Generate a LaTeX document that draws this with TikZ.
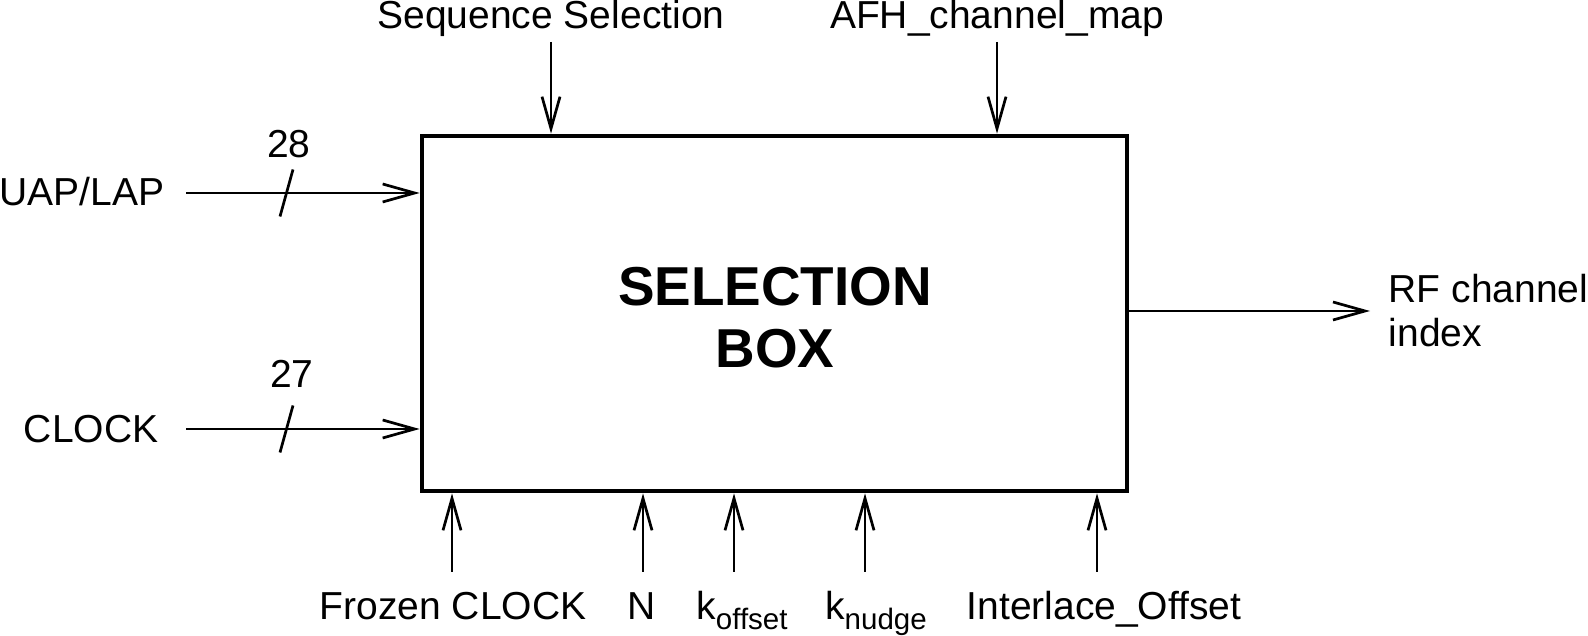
\documentclass[tikz,border=0pt]{standalone}
\usepackage{fontspec}
\setmainfont{Liberation Sans}
\usetikzlibrary{arrows.meta}
\newcommand{\lowsub}[1]{\raisebox{-2.6pt}{\fontsize{8.4}{10}\selectfont #1}}
\begin{document}
\begin{tikzpicture}[x=1cm,y=-1cm,>={Straight Barb[length=0.32cm,width=0.18cm]},
  every node/.style={font=\fontsize{11.1}{12.5}\selectfont,inner sep=0pt},
  wire/.style={line width=0.77pt},
  selbox/.style={draw,line width=1.33pt,minimum width=7.05cm,minimum height=3.55cm}]
\useasboundingbox (0,0) rectangle (15.88,6.36);
\node[selbox] (box) at (7.745,3.135) {};
\node[align=center,font=\fontsize{15.6}{17.6}\selectfont\bfseries] (title) at (7.75,3.18) {SELECTION\\BOX};
% inputs from the left
\node[anchor=base east] (uap) at (1.65,2.06) {UAP/LAP};
\node[anchor=base east] (clk) at (1.59,4.43) {CLOCK};
\coordinate (uapin) at (1.86,1.93);
\coordinate (clkin) at (1.86,4.29);
\draw[->,wire](uapin)--(uapin -| box.west);
\draw[->,wire](clkin)--(clkin -| box.west);
\foreach \y in {1.93,4.29}
{
    \draw[wire](2.93,{\y-0.235})--(2.80,{\y+0.235});
}
\node (w28) at (2.89,1.44) {28};
\node (w27) at (2.92,3.74) {27};
% inputs from the top
\node[anchor=base] (seq) at (5.51,0.285) {Sequence Selection};
\node[anchor=base] (afh) at (9.97,0.285) {AFH\_channel\_map};
\coordinate (seqin) at (5.51,0.42);
\coordinate (afhin) at (9.97,0.42);
\draw[->,wire](seqin)--(seqin |- box.north);
\draw[->,wire](afhin)--(afhin |- box.north);
% output
\coordinate (rfout) at (13.70,3.11);
\draw[->,wire](rfout -| box.east)--(rfout);
\node[anchor=west,align=left] (rf) at (13.88,3.11) {RF channel\\index};
% inputs from the bottom
\foreach \x/\name in {4.52/frzin,6.43/nin,7.34/koffin,8.65/knudin,10.97/intlin}
{
    \coordinate (\name) at (\x,5.72);
    \draw[->,wire](\name)--(\name |- box.south);
}
\node[anchor=base] (frz) at (4.53,6.20) {Frozen CLOCK};
\node[anchor=base] (n) at (6.42,6.20) {N};
\node[anchor=base] (koff) at (7.42,6.20) {k\lowsub{offset}};
\node[anchor=base] (knud) at (8.76,6.20) {k\lowsub{nudge}};
\node[anchor=base] (intl) at (11.04,6.20) {Interlace\_Offset};
\end{tikzpicture}
\end{document}
